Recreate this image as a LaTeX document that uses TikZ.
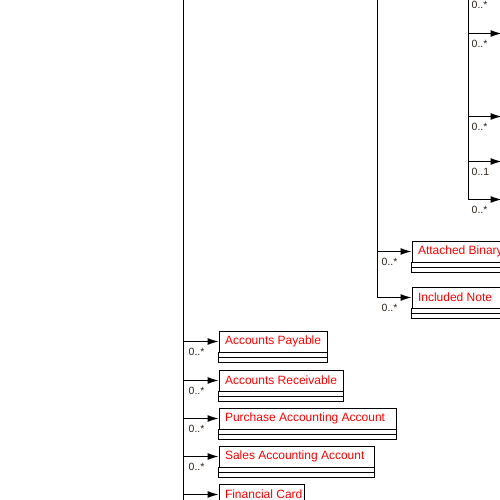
\documentclass[tikz,border=0pt]{standalone}
\usepackage{fontspec}
\setmainfont{Liberation Sans}
\usetikzlibrary{arrows.meta}
\definecolor{multcol}{RGB}{45,35,25}
\tikzset{
  cls/.style={draw, fill=white, line width=1pt, anchor=north west, minimum height=21pt,
    inner xsep=6pt, inner ysep=0pt, text=red, font=\fontsize{12}{14}\selectfont},
  assoc/.style={line width=1pt, -{Latex[length=11pt,width=7pt]}},
  mult/.style={anchor=west, inner sep=0pt, text=multcol, font=\fontsize{10.5}{12}\selectfont},
  trunk/.style={line width=1pt}
}
\begin{document}
\begin{tikzpicture}[x=1pt, y=-1pt]
  \useasboundingbox (-0.5,-0.5) rectangle (499.5,499.5);
  % trunks
  \coordinate (t1top) at (183,-1);
  \coordinate (t1bot) at (183,501);
  \coordinate (t2top) at (377,-1);
  \coordinate (t3top) at (468,-1);
  \draw[trunk] (t1top) -- (t1bot);
  % left classes
  \foreach \nm/\y/\w/\txt in {ap/330/96/Accounts Payable, ar/369/112/Accounts Receivable,
      paa/407/165/Purchase Accounting Account, saa/445/143/Sales Accounting Account,
      fc/483/73/Financial Card} {
    \node[cls] (\nm) at (218,\y) {\makebox[\w pt][l]{\txt}};
    \draw[trunk] (\nm.south west) rectangle ([yshift=-5pt]\nm.south east);
    \draw[trunk] ([yshift=-5pt]\nm.south west) rectangle ([yshift=-10pt]\nm.south east);
    \draw[assoc] (\nm.west -| t1top) -- (\nm.west);
  }
  \foreach \nm/\y in {ap/330, ar/369, paa/407, saa/445}
    \node[mult] (m\nm) at (188,\y+21) {0..*};
  % right classes
  \foreach \nm/\y/\txt in {ab/240/Attached Binary Object, in/286/Included Note} {
    \node[cls] (\nm) at (411,\y) {\makebox[150pt][l]{\txt}};
    \draw[trunk] (\nm.south west) rectangle ([yshift=-5pt]\nm.south east);
    \draw[trunk] ([yshift=-5pt]\nm.south west) rectangle ([yshift=-10pt]\nm.south east);
    \draw[assoc] (\nm.west -| t2top) -- (\nm.west);
    \node[mult] (m\nm) at (381,\y+21) {0..*};
  }
  \draw[trunk] (t2top) -- (in.west -| t2top);
  % branches leaving the picture on the right
  \coordinate (r1) at (501,33);
  \coordinate (r2) at (501,116);
  \coordinate (r3) at (501,161);
  \coordinate (r4) at (501,199);
  \draw[trunk] (t3top) -- (r4 -| t3top);
  \foreach \c in {r1,r2,r3,r4}
    \draw[assoc] (\c -| t3top) -- (\c);
  \node[mult] (m0) at (471,4) {0..*};
  \node[mult] (m1) at (471,43) {0..*};
  \node[mult] (m2) at (471,126) {0..*};
  \node[mult] (m3) at (471,171) {0..1};
  \node[mult] (m4) at (471,209) {0..*};
\end{tikzpicture}
\end{document}
